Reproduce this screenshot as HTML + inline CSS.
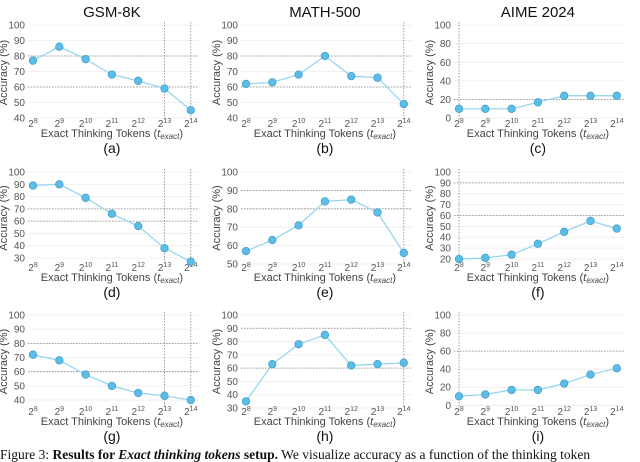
<!DOCTYPE html>
<html><head><meta charset="utf-8"><style>
html,body{margin:0;padding:0;background:#fff;width:640px;height:462px;overflow:hidden}
svg{display:block}
</style></head><body>
<svg id="fig" width="640" height="462" xmlns="http://www.w3.org/2000/svg" font-family="Liberation Sans, sans-serif"></svg>
<script>
const xExponents = [8,9,10,11,12,13,14];
const titles = ["GSM-8K","MATH-500","AIME 2024"];
const letters = ["a","b","c","d","e","f","g","h","i"];
const valsA = [77,86,78,68,64,59,45];
const valsB = [62,63,68,80,67,66,49];
const valsC = [10,10,10,17,24,24,24];
const valsD = [89,90,79,66,56,38,27];
const valsE = [57,63,71,84,85,78,56];
const valsF = [20,21,24,34,45,55,48];
const valsG = [72,68,58,50,45,43,40];
const valsH = [35,63,78,85,62,63,64];
const valsI = [10,12,17,17,24,34,41];
const ticksA = [40,50,60,70,80,90,100];
const ticksC = [0,20,40,60,80,100];
const ticksD = [30,40,50,60,70,80,90,100];
const ticksE = [50,60,70,80,90,100];
const ticksF = [20,30,40,50,60,70,80,90,100];
const ticksH = [30,40,50,60,70,80,90,100];
const yMins = [38.7,38.7,-2,25.1,50,15.4,34.4,30,-3];
const hDashed = [[80,60],[80,60],[20],[70,60],[90,80],[90,60],[80,60],[90,60],[60]];
const vDashed = [[5,6],[6],[0],[5,6],[6],[0],[5,6],[6],[0]];

const series = [valsA,valsB,valsC,valsD,valsE,valsF,valsG,valsH,valsI];
const tickSets = [ticksA,ticksA,ticksC,ticksD,ticksE,ticksF,ticksA,ticksH,ticksC];

const NS="http://www.w3.org/2000/svg";
const svg=document.getElementById('fig');
function mk(tag,attrs,parent){const e=document.createElementNS(NS,tag);for(const k in attrs)e.setAttribute(k,attrs[k]);(parent||svg).appendChild(e);return e;}

const colX0=[33,246,459], colStep=26.3;
const rowTop=[25,172,315], rowBot=[120,264,408];
const axisLeft=[28,241,454];

for(let p=0;p<9;p++){
  const r=Math.floor(p/3), c=p%3;
  const g=mk('g',{});
  
  
  const yMin=yMins[p], yMax=100;
  const top=rowTop[r], bot=rowBot[r];
  const Y=v=>bot-(v-yMin)/(yMax-yMin)*(bot-top);
  const X=i=>colX0[c]+i*colStep;
  const left=axisLeft[c], right=colX0[c]+6*colStep+8;
  tickSets[p].forEach(t=>{
    const l=mk('line',{x1:left,x2:right,y1:Y(t),y2:Y(t),stroke:'#ececec','stroke-width':0.8},g);
    
    
    const tx=mk('text',{x:left-3,y:Y(t)+3.5,'font-size':10,fill:'#555','text-anchor':'end'},g);
    tx.textContent=t;
    
    
  });
  hDashed[p].forEach(v=>{
    const l=mk('line',{x1:left,x2:right,y1:Y(v),y2:Y(v),stroke:'#888','stroke-width':0.8,'stroke-dasharray':'1.5,1.5'},g);
    
    
  });
  vDashed[p].forEach(i=>{
    const l=mk('line',{x1:X(i),x2:X(i),y1:top-3,y2:bot,stroke:'#888','stroke-width':0.8,'stroke-dasharray':'1.5,1.5'},g);
    
    
  });
  xExponents.forEach((e,i)=>{
    const t=mk('text',{x:X(i),y:bot+7,'font-size':10,fill:'#555','text-anchor':'middle'},g);
    t.innerHTML='2<tspan font-size="7" dy="-4">'+e+'</tspan>';
    
    
  });
  const xt=mk('text',{x:(X(0)+X(6))/2,y:bot+17,'font-size':11,fill:'#444','text-anchor':'middle'},g);
  xt.innerHTML='Exact Thinking Tokens (<tspan font-style="italic">t</tspan><tspan font-style="italic" font-size="8" dy="2">exact</tspan><tspan dy="-2">)</tspan>';
  
  
  const yt=mk('text',{x:0,y:0,'font-size':11,fill:'#444','text-anchor':'middle',transform:`translate(${left-21},${(top+bot)/2}) rotate(-90)`},g);
  yt.textContent='Accuracy (%)';
  
  
  const lab=mk('text',{x:(X(0)+X(6))/2,y:bot+33,'font-size':14,fill:'#111','text-anchor':'middle'},g);
  lab.textContent='('+letters[p]+')';
  
  
  if(r===0){
    const tt=mk('text',{x:(X(0)+X(6))/2,y:17,'font-size':15,fill:'#111','text-anchor':'middle'},g);
    tt.textContent=titles[c];
    
    
  }
  const vals=series[p];
  const pl=mk('polyline',{points:vals.map((v,i)=>X(i)+','+Y(v)).join(' '),fill:'none',stroke:'#8fd4ef','stroke-width':1.2},g);
  
  
  vals.forEach((v,i)=>{
    const cc=mk('circle',{cx:X(i),cy:Y(v),r:3.8,fill:'#5cbde6',stroke:'#3f9cc8','stroke-width':0.7},g);
    
    
  });
}
const cap=mk('text',{x:0,y:459,'font-size':13.5,fill:'#111','font-family':'Liberation Serif, serif'});
cap.innerHTML='Figure 3: <tspan font-weight="bold">Results for <tspan font-style="italic">Exact thinking tokens</tspan> setup.</tspan> We visualize accuracy as a function of the thinking token';


</script>
</body></html>
